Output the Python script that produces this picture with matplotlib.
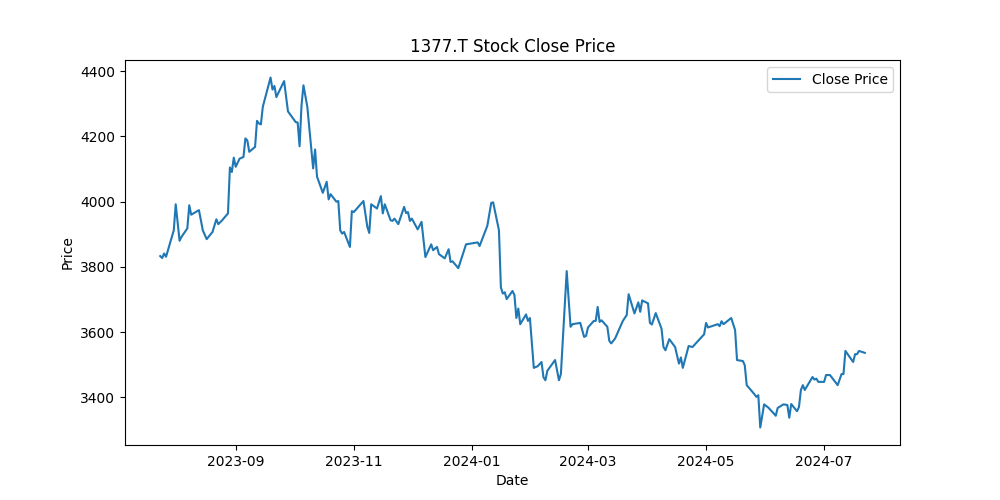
import matplotlib
matplotlib.use("Agg")
import matplotlib.pyplot as plt
import matplotlib.dates as mdates
import pandas as pd

dates = [
    "2023-07-24", "2023-07-25", "2023-07-26", "2023-07-27", "2023-07-31", "2023-08-01",
    "2023-08-03", "2023-08-04", "2023-08-07", "2023-08-08", "2023-08-09", "2023-08-13",
    "2023-08-15", "2023-08-17", "2023-08-20", "2023-08-22", "2023-08-23", "2023-08-25",
    "2023-08-28", "2023-08-29", "2023-08-30", "2023-08-31", "2023-09-01", "2023-09-03",
    "2023-09-05", "2023-09-06", "2023-09-07", "2023-09-08", "2023-09-11", "2023-09-12",
    "2023-09-13", "2023-09-14", "2023-09-15", "2023-09-19", "2023-09-20", "2023-09-21",
    "2023-09-22", "2023-09-26", "2023-09-28", "2023-10-01", "2023-10-02", "2023-10-03",
    "2023-10-04", "2023-10-05", "2023-10-06", "2023-10-08", "2023-10-11", "2023-10-12",
    "2023-10-13", "2023-10-16", "2023-10-18", "2023-10-19", "2023-10-20", "2023-10-23",
    "2023-10-24", "2023-10-25", "2023-10-26", "2023-10-27", "2023-10-30", "2023-10-31",
    "2023-11-01", "2023-11-06", "2023-11-08", "2023-11-09", "2023-11-10", "2023-11-13",
    "2023-11-15", "2023-11-16", "2023-11-17", "2023-11-18", "2023-11-20", "2023-11-21",
    "2023-11-22", "2023-11-24", "2023-11-27", "2023-11-28", "2023-11-29", "2023-11-30",
    "2023-12-01", "2023-12-04", "2023-12-06", "2023-12-08", "2023-12-11", "2023-12-12",
    "2023-12-14", "2023-12-15", "2023-12-18", "2023-12-20", "2023-12-21", "2023-12-22",
    "2023-12-25", "2023-12-29", "2024-01-04", "2024-01-05", "2024-01-09", "2024-01-11",
    "2024-01-12", "2024-01-15", "2024-01-16", "2024-01-17", "2024-01-18", "2024-01-19",
    "2024-01-22", "2024-01-23", "2024-01-24", "2024-01-25", "2024-01-26", "2024-01-29",
    "2024-01-30", "2024-01-31", "2024-02-02", "2024-02-04", "2024-02-06", "2024-02-07",
    "2024-02-08", "2024-02-09", "2024-02-13", "2024-02-15", "2024-02-16", "2024-02-19",
    "2024-02-21", "2024-02-22", "2024-02-26", "2024-02-28", "2024-02-29", "2024-03-01",
    "2024-03-04", "2024-03-05", "2024-03-06", "2024-03-07", "2024-03-08", "2024-03-11",
    "2024-03-12", "2024-03-13", "2024-03-15", "2024-03-19", "2024-03-21", "2024-03-22",
    "2024-03-25", "2024-03-27", "2024-03-28", "2024-03-29", "2024-04-01", "2024-04-02",
    "2024-04-03", "2024-04-05", "2024-04-08", "2024-04-09", "2024-04-10", "2024-04-12",
    "2024-04-15", "2024-04-17", "2024-04-18", "2024-04-19", "2024-04-22", "2024-04-24",
    "2024-04-30", "2024-05-01", "2024-05-02", "2024-05-07", "2024-05-08", "2024-05-09",
    "2024-05-10", "2024-05-14", "2024-05-16", "2024-05-17", "2024-05-20", "2024-05-21",
    "2024-05-22", "2024-05-26", "2024-05-27", "2024-05-28", "2024-05-29", "2024-05-31",
    "2024-06-02", "2024-06-05", "2024-06-06", "2024-06-07", "2024-06-10", "2024-06-12",
    "2024-06-13", "2024-06-14", "2024-06-17", "2024-06-18", "2024-06-19", "2024-06-20",
    "2024-06-21", "2024-06-25", "2024-06-26", "2024-06-27", "2024-06-28", "2024-07-01",
    "2024-07-02", "2024-07-04", "2024-07-08", "2024-07-10", "2024-07-11", "2024-07-12",
    "2024-07-16", "2024-07-17", "2024-07-18", "2024-07-19", "2024-07-22",
]

close = [
    3833, 3827, 3841, 3831, 3912, 3992,
    3880, 3892, 3918, 3989, 3960, 3974,
    3912, 3885, 3907, 3946, 3931, 3943,
    3964, 4105, 4091, 4135, 4107, 4132,
    4137, 4194, 4188, 4153, 4168, 4248,
    4240, 4237, 4291, 4381, 4344, 4355,
    4321, 4370, 4277, 4252, 4244, 4243,
    4170, 4296, 4357, 4291, 4102, 4160,
    4077, 4027, 4061, 4007, 4023, 4000,
    4002, 3912, 3902, 3907, 3861, 3971,
    3968, 4002, 3923, 3904, 3992, 3979,
    4017, 3964, 3992, 3976, 3943, 3941,
    3948, 3931, 3984, 3965, 3968, 3941,
    3948, 3915, 3938, 3830, 3869, 3851,
    3861, 3839, 3826, 3854, 3815, 3817,
    3796, 3869, 3875, 3864, 3926, 3996,
    3998, 3912, 3737, 3718, 3722, 3701,
    3726, 3713, 3643, 3672, 3624, 3654,
    3634, 3643, 3490, 3495, 3508, 3461,
    3452, 3481, 3514, 3452, 3471, 3787,
    3616, 3624, 3628, 3585, 3588, 3614,
    3634, 3634, 3677, 3631, 3636, 3616,
    3573, 3565, 3580, 3634, 3652, 3716,
    3657, 3691, 3662, 3697, 3688, 3628,
    3623, 3658, 3610, 3554, 3544, 3578,
    3554, 3503, 3522, 3490, 3557, 3554,
    3593, 3628, 3614, 3624, 3618, 3633,
    3624, 3643, 3606, 3514, 3511, 3498,
    3437, 3409, 3401, 3406, 3307, 3378,
    3369, 3350, 3343, 3367, 3378, 3376,
    3337, 3379, 3357, 3370, 3422, 3437,
    3422, 3462, 3454, 3457, 3447, 3447,
    3468, 3468, 3437, 3471, 3471, 3542,
    3508, 3532, 3532, 3542, 3536,
]

x = pd.to_datetime(dates)

fig, ax = plt.subplots(figsize=(10, 5), dpi=100)
ax.plot(x, close, color="#1f77b4", label="Close Price")
ax.set_title("1377.T Stock Close Price")
ax.set_xlabel("Date")
ax.set_ylabel("Price")
ax.xaxis.set_major_locator(mdates.MonthLocator(bymonth=[1, 3, 5, 7, 9, 11]))
ax.xaxis.set_major_formatter(mdates.DateFormatter("%Y-%m"))
ax.legend(loc="upper right")
fig.savefig("out.png", dpi=100)
